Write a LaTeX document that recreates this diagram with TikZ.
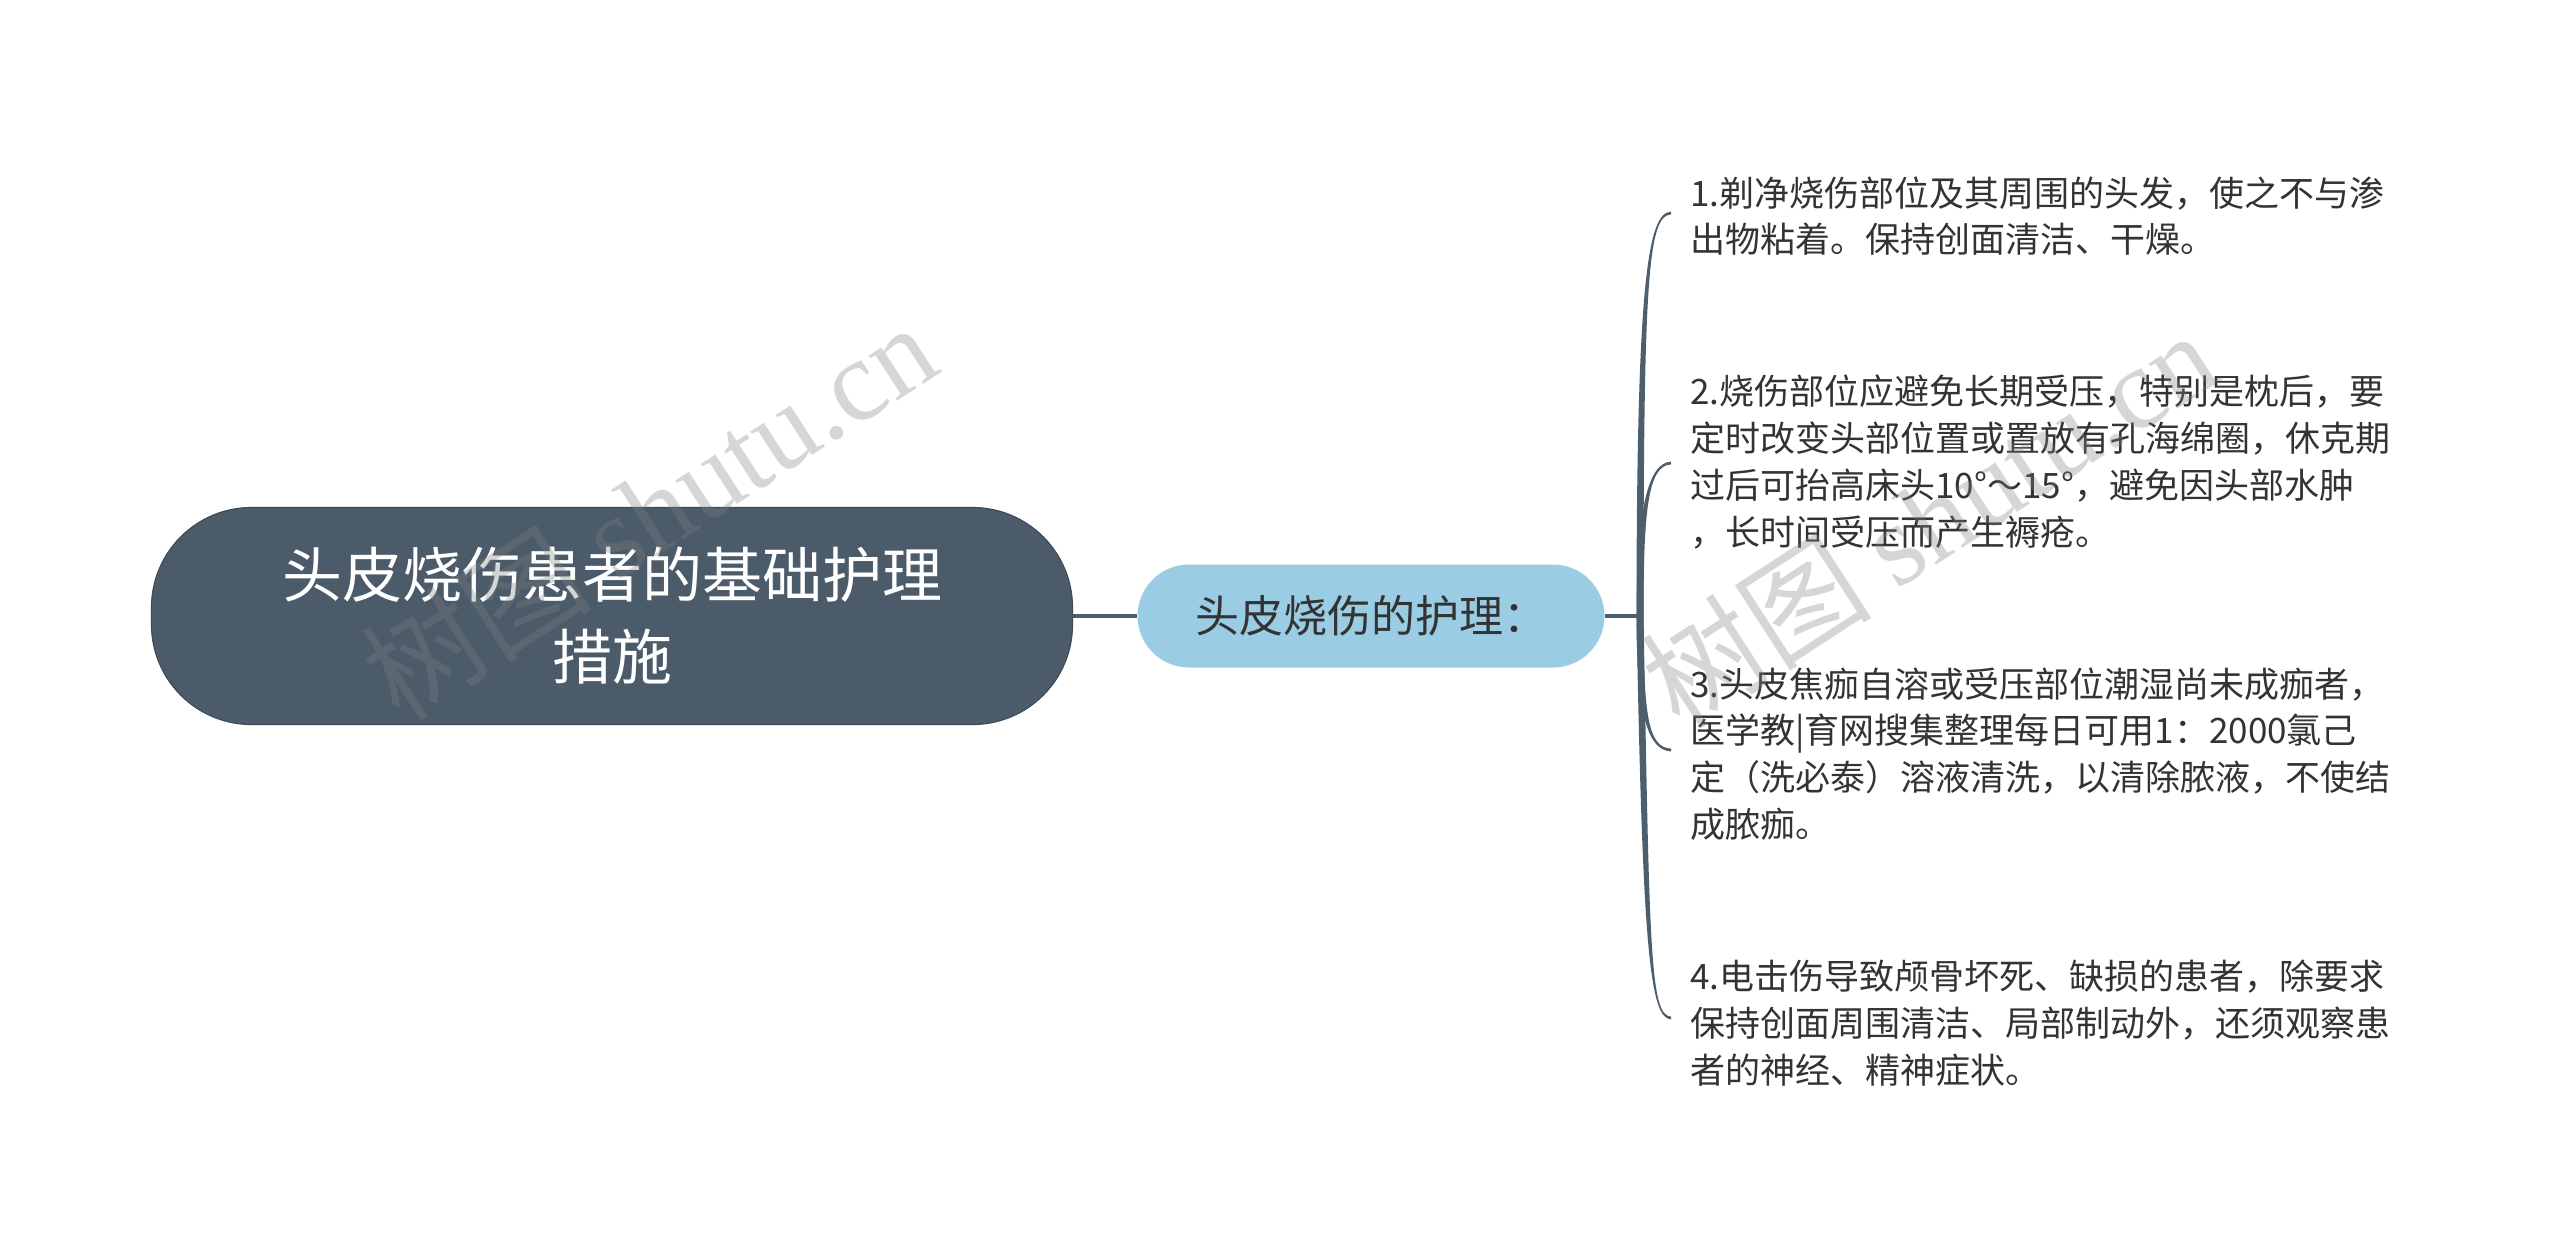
\documentclass[tikz,border=0pt]{standalone}
\usepackage{fontspec}
\setmainfont{Noto Sans CJK SC}
\newfontfamily\wmfont{Liberation Serif}
\usetikzlibrary{calc}
\definecolor{rootfill}{HTML}{4B5B6A}
\definecolor{rootline}{HTML}{3E4C59}
\definecolor{midfill}{HTML}{9ACCE4}
\definecolor{conncol}{HTML}{4D5E6D}
\definecolor{txt}{HTML}{333333}
\newcommand\mybranch[4]{%
\fill[conncol] ($(J)+(-3.5,0)$) .. controls ($#1+(-3.5,0)$) and ($#2+(0,{-1.4*#4})$) .. ($(#3)+(0,{-1.4*#4})$) -- ($(#3)+(0,{1.4*#4})$) .. controls ($#2+(0,{1.4*#4})$) and ($#1+(3.5,0)$) .. ($(J)+(3.5,0)$) -- cycle;}
\begin{document}
\begin{tikzpicture}[x=0.5pt,y=-0.5pt,
  rootbox/.style={draw=rootline, line width=0.6pt, fill=rootfill, rounded corners=50pt,
    minimum width=460.5pt, minimum height=108.5pt, inner sep=0pt, align=center,
    text=white, font=\fontsize{30pt}{41pt}\selectfont},
  midbox/.style={fill=midfill, rounded corners=25.75pt, minimum width=233.5pt,
    minimum height=51.5pt, inner sep=0pt, text=txt, font=\fontsize{22pt}{26pt}\selectfont},
  itembox/.style={anchor=west, align=left, inner sep=0pt, text=txt,
    font=\fontsize{17.5pt}{23.4pt}\selectfont},
  conn/.style={draw=conncol, line width=2pt},
  wm/.style={text=gray, opacity=0.32, inner sep=0pt, font=\fontsize{58pt}{60pt}\selectfont}]
\useasboundingbox (0,0) rectangle (2560,1255);
\fill[white] (0,0) rectangle (2560,1255);

\node[rootbox] (root) at (612,616) {头皮烧伤患者的基础护理\\措施};
\node[midbox] (mid) at (1371,616) {头皮烧伤的护理：};
\coordinate (J) at (1640,616);
\draw[conn] (root.east) -- (mid.west);
\draw[conn] (mid.east) -- (J);

\coordinate (E1) at (1671,213);
\coordinate (E2) at (1671,463);
\coordinate (E3) at (1671,750);
\coordinate (E4) at (1671,1018);
\mybranch{(1640,280)}{(1648,214)}{E1}{1}
\mybranch{(1640,510)}{(1648,464)}{E2}{1}
\mybranch{(1640,715)}{(1648,749)}{E3}{-1}
\mybranch{(1646,950)}{(1650,1017)}{E4}{-1}

\node[itembox] (t1) at (1690,216) {1.剃净烧伤部位及其周围的头发，使之不与渗\\出物粘着。保持创面清洁、干燥。};
\node[itembox] (t2) at (1690,462) {2.烧伤部位应避免长期受压，特别是枕后，要\\定时改变头部位置或置放有孔海绵圈，休克期\\过后可抬高床头10°～15°，避免因头部水肿\\，长时间受压而产生褥疮。};
\node[itembox] (t3) at (1690,754) {3.头皮焦痂自溶或受压部位潮湿尚未成痂者，\\医学教|育网搜集整理每日可用1：2000氯己\\定（洗必泰）溶液清洗，以清除脓液，不使结\\成脓痂。};
\node[itembox] (t4) at (1690,1023) {4.电击伤导致颅骨坏死、缺损的患者，除要求\\保持创面周围清洁、局部制动外，还须观察患\\者的神经、精神症状。};

\node[wm, rotate=33] (w1) at (648,510) {树图 {\wmfont shutu.cn}};
\node[wm, rotate=33] (w2) at (1928,518) {树图 {\wmfont shutu.cn}};
\end{tikzpicture}
\end{document}
